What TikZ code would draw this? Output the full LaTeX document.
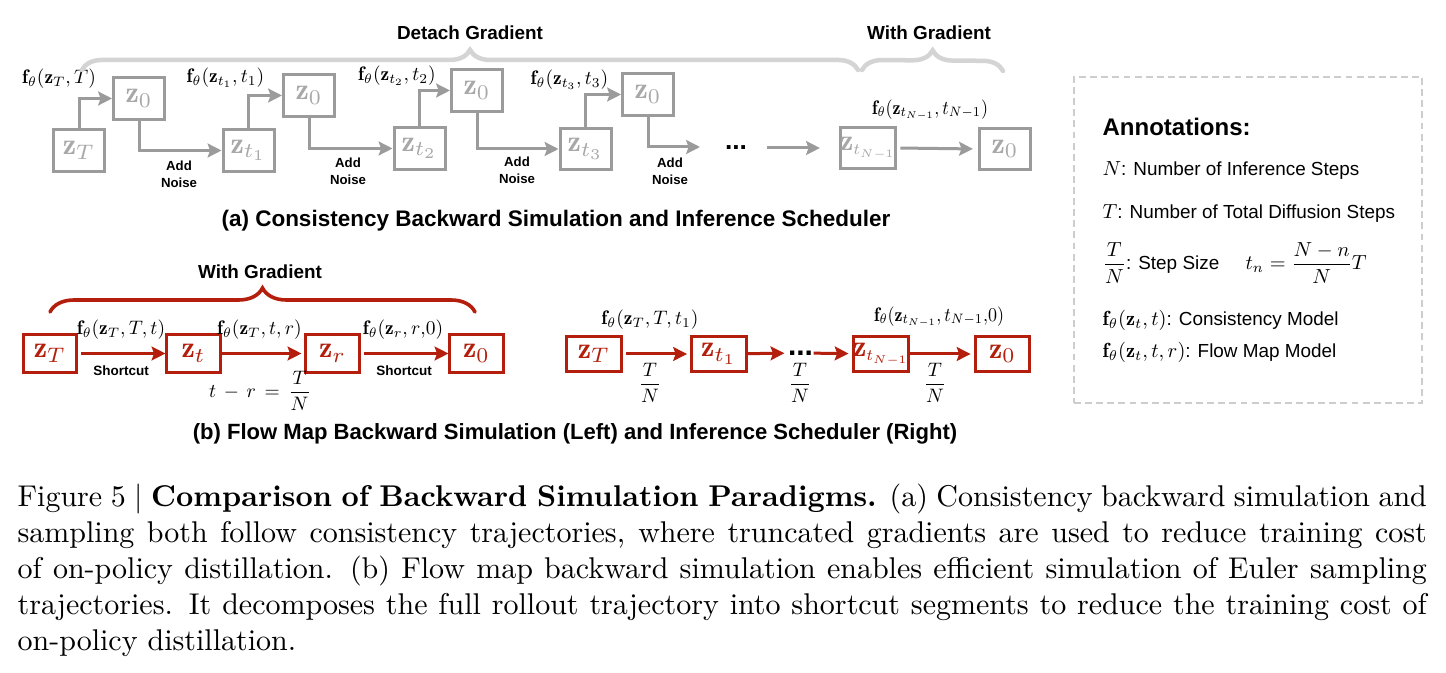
\RequirePackage{fix-cm}
\documentclass[tikz,border=0pt]{standalone}
\usepackage{amsmath}
\usepackage{graphicx}
\usepackage{fontspec}
\newfontfamily\arial{Liberation Sans}
\usetikzlibrary{arrows.meta,decorations.pathreplacing}
\definecolor{gline}{RGB}{155,155,155}
\definecolor{gtext}{RGB}{168,168,168}
\definecolor{gbrace}{RGB}{212,212,212}
\definecolor{myred}{RGB}{180,30,12}
\definecolor{dashc}{RGB}{205,205,205}
\newcommand{\mth}[1]{\scalebox{0.65}{\fontsize{10}{12}\selectfont$#1$}}
\newcommand{\nmth}[1]{\scalebox{0.6}[0.65]{\fontsize{10}{12}\selectfont$#1$}}
\newcommand{\amth}[1]{\scalebox{0.68}{\fontsize{10}{12}\selectfont$#1$}}
\newcommand{\zN}{\mathbf{z}_{\scalebox{0.75}{$\scriptstyle t_{N-1}$}}}
\begin{document}
\begin{tikzpicture}[x={(0.33333pt,0)}, y={(0,-0.33333pt)},
  >={Stealth[length=4.6pt,width=4.6pt,inset=0.8pt]},
  gbox/.style={draw=gline, line width=1pt, minimum width=17pt, minimum height=13.7pt, inner sep=0pt, text=gtext, font=\fontsize{10}{12}\selectfont},
  rboxL/.style={draw=myred, line width=1pt, minimum width=17.7pt, minimum height=12.7pt, inner sep=0pt, text=myred, font=\fontsize{10}{12}\selectfont},
  rboxR/.style={draw=myred, line width=1pt, minimum width=18.3pt, minimum height=11.7pt, inner sep=0pt, text=myred, font=\fontsize{10}{12}\selectfont},
  garr/.style={draw=gline, line width=1pt, ->},
  rarr/.style={draw=myred, line width=1pt, ->},
  sflab/.style={font=\arial\bfseries\fontsize{6.3}{7.5}\selectfont, inner sep=0pt},
  noise/.style={font=\arial\bfseries\fontsize{4.4}{5.7}\selectfont, align=center, inner sep=0pt},
  short/.style={font=\arial\bfseries\fontsize{4.5}{5.4}\selectfont, inner sep=0pt},
  mlab/.style={inner sep=0pt},
  title/.style={font=\arial\bfseries\fontsize{7.5}{9}\selectfont, inner sep=0pt},
  anno/.style={font=\arial\fontsize{6.3}{7.5}\selectfont, inner sep=0pt, anchor=west},
  gbr/.style={draw=gbrace, line width=1.5pt, line cap=round, decorate, decoration={brace, amplitude=6.7pt}},
  rbr/.style={draw=myred, line width=1.2pt, line cap=round, decorate, decoration={brace, amplitude=8pt}},
]
\useasboundingbox (0,0) rectangle (1446,673);
\fill[white] (0,0) rectangle (1446,673);

% ---------- (a) ----------
\node[gbox] (zT)  at (79,150.5)  {$\mathbf{z}_T$};
\node[gbox] (z0a) at (139,98.5)  {$\mathbf{z}_0$};
\node[gbox] (zt1) at (248.5,150.5) {$\mathbf{z}_{t_1}$};
\node[gbox] (z0b) at (309,95.5)  {$\mathbf{z}_0$};
\node[gbox] (zt2) at (419.5,148.5) {$\mathbf{z}_{t_2}$};
\node[gbox] (z0c) at (477,90.5)  {$\mathbf{z}_0$};
\node[gbox] (zt3) at (585.5,149) {$\mathbf{z}_{t_3}$};
\node[gbox] (z0d) at (648,94.5)  {$\mathbf{z}_0$};
\node[gbox] (ztN) at (868,148)   {$\zN$};
\node[gbox] (z0e) at (1005,149)  {$\mathbf{z}_0$};

\draw[garr] (zT.north) |- (z0a.west);
\draw[garr] (z0a.south) |- (zt1.west);
\draw[garr] (zt1.north) |- (z0b.west);
\draw[garr] (z0b.south) |- (zt2.west);
\draw[garr] (zt2.north) |- (z0c.west);
\draw[garr] (z0c.south) |- (zt3.west);
\draw[garr] (zt3.north) |- (z0d.west);
\coordinate (e4) at (700,147);
\draw[garr] (z0d.south) |- (e4);
\node[font=\arial\bfseries\fontsize{8.8}{10}\selectfont, inner sep=0pt] (dots1) at (736,148) {...};
\coordinate (s5) at (767,148);
\draw[garr, shorten >=6.2pt] (s5) -- (ztN.west);
\draw[garr, shorten <=1pt, shorten >=1.7pt] (ztN.east) -- (z0e.west);

\node[mlab] (l1) at (59,79)    {\mth{\mathbf{f}_\theta(\mathbf{z}_T, T)}};
\node[mlab] (l2) at (225.5,78) {\mth{\mathbf{f}_\theta(\mathbf{z}_{t_1}, t_1)}};
\node[mlab] (l3) at (397,76)   {\mth{\mathbf{f}_\theta(\mathbf{z}_{t_2}, t_2)}};
\node[mlab] (l4) at (569.5,80) {\mth{\mathbf{f}_\theta(\mathbf{z}_{t_3}, t_3)}};
\node[mlab] (l5) at (930,110)  {\nmth{\mathbf{f}_\theta(\mathbf{z}_{t_{N-1}}, t_{N-1})}};

\node[noise] (n1) at (179,174.5) {Add\\Noise};
\node[noise] (n2) at (348,171.5) {Add\\Noise};
\node[noise] (n3) at (517,170.5) {Add\\Noise};
\node[noise] (n4) at (670,171.5) {Add\\Noise};

\coordinate (bA) at (82,70);
\coordinate (bB) at (858,70);
\draw[gbr] (bA) -- (bB);
\coordinate (bC) at (862,70);
\coordinate (bD) at (1003,71);
\draw[gbr] (bC) -- (bD);
\node[sflab] (dg) at (470,33) {Detach Gradient};
\node[sflab] (wg1) at (929,33) {With Gradient};

\node[title] (ta) at (556,221) {(a) Consistency Backward Simulation and Inference Scheduler};

% ---------- (b) ----------
\node[rboxL] (bzT) at (50,353.5)    {$\mathbf{z}_T$};
\node[rboxL] (bzt) at (193.5,353.5) {$\mathbf{z}_t$};
\node[rboxL] (bzr) at (332.5,353.5) {$\mathbf{z}_r$};
\node[rboxL] (bz0) at (476.5,353.5) {$\mathbf{z}_0$};
\draw[rarr, shorten <=1pt] (bzT) -- (bzt);
\draw[rarr, shorten >=1pt] (bzt) -- (bzr);
\draw[rarr, shorten <=1pt] (bzr) -- (bz0);

\node[mlab] (m1) at (121,330)   {\mth{\mathbf{f}_\theta(\mathbf{z}_T, T, t)}};
\node[mlab] (m2) at (259.5,330) {\mth{\mathbf{f}_\theta(\mathbf{z}_T, t, r)}};
\node[mlab] (m3) at (403,330)   {\mth{\mathbf{f}_\theta(\mathbf{z}_r, r{,}0)}};
\node[short] (s1) at (121,371) {Shortcut};
\node[short] (s2) at (404,371) {Shortcut};
\node[mlab] (tr) at (260,391) {\mth{t \,-\, r \,=\, \dfrac{T}{N}}};

\coordinate (rA) at (50,312);
\coordinate (rB) at (475,312);
\draw[rbr] (rA) -- (rB);
\node[sflab] (wg2) at (260,272) {With Gradient};

\node[rboxR] (cT)  at (594,354)    {$\mathbf{z}_T$};
\node[rboxR] (ct1) at (719,354)    {$\mathbf{z}_{t_1}$};
\node[rboxR] (ctN) at (881,354)    {$\zN$};
\node[rboxR] (cz0) at (1002.5,354) {$\mathbf{z}_0$};
\node[font=\arial\bfseries\fontsize{10}{11}\selectfont, inner sep=0pt] (dots2) at (800.5,353) {...};
\draw[rarr, shorten <=1pt, shorten >=1pt] (cT) -- (ct1);
\draw[rarr, shorten >=1pt] (ct1) -- (dots2);
\draw[rarr, shorten >=1pt] (dots2) -- (ctN);
\draw[rarr, shorten >=1pt] (ctN) -- (cz0);

\node[mlab] (m4) at (650,320) {\mth{\mathbf{f}_\theta(\mathbf{z}_T, T, t_1)}};
\node[mlab] (m5) at (939,317) {\nmth{\mathbf{f}_\theta(\mathbf{z}_{t_{N-1}}, t_{N-1}{,}0)}};
\node[mlab] (f1) at (650,383) {\mth{\dfrac{T}{N}}};
\node[mlab] (f2) at (800,383) {\mth{\dfrac{T}{N}}};
\node[mlab] (f3) at (935,383) {\mth{\dfrac{T}{N}}};

\node[title, font=\arial\bfseries\fontsize{7.35}{9}\selectfont] (tb) at (575,434) {(b) Flow Map Backward Simulation (Left) and Inference Scheduler (Right)};

% ---------- annotations ----------
\node[draw=dashc, line width=0.8pt, dash pattern=on 2.3pt off 1.4pt, minimum width=116pt, minimum height=108.7pt, inner sep=0pt] (ann) at (1248,240) {};
\node[anno] (a0) at (1102,127) {\bfseries\fontsize{8}{9.6}\selectfont Annotations:};
\node[anno] (a1) at (1102,170) {\amth{N}: Number of Inference Steps};
\node[anno] (a2) at (1102,213) {\amth{T}: Number of Total Diffusion Steps};
\node[anno] (a3) at (1102,263) {\amth{\dfrac{T}{N}}: Step Size};
\node[anno] (a4) at (1245,263) {\amth{t_n = \dfrac{N-n}{N}T}};
\node[anno] (a5) at (1102,320) {\amth{\mathbf{f}_\theta(\mathbf{z}_t, t)}: Consistency Model};
\node[anno] (a6) at (1102,352) {\amth{\mathbf{f}_\theta(\mathbf{z}_t, t, r)}: Flow Map Model};

% ---------- caption ----------
\node[anchor=north west, inner sep=0pt, text width=469.75pt, align=justify, font=\fontsize{10}{12}\selectfont] (cap) at (17,483.5) {Figure 5 $|$ \textbf{Comparison of Backward Simulation Paradigms.} (a) Consistency backward simulation and\linebreak sampling both follow consistency trajectories, where truncated gradients are used to reduce training cost\linebreak of on-policy distillation. (b) Flow map backward simulation enables efficient simulation of Euler sampling\linebreak trajectories. It decomposes the full rollout trajectory into shortcut segments to reduce the training cost of\linebreak on-policy distillation.};
\end{tikzpicture}
\end{document}
